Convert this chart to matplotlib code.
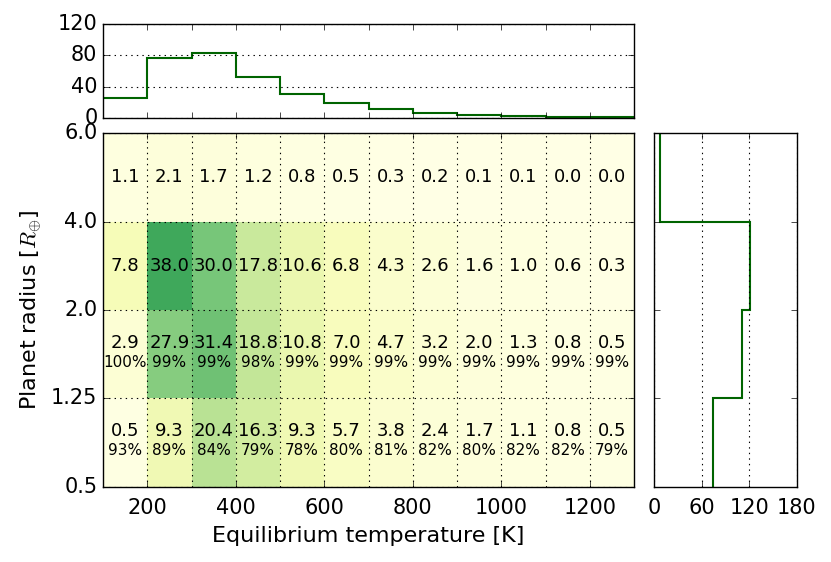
import matplotlib
matplotlib.use('Agg')
import matplotlib.pyplot as plt
import numpy as np

# temperature bins [K] and radius bins [R_earth]
temp_edges = [100, 200, 300, 400, 500, 600, 700, 800, 900, 1000, 1100, 1200, 1300]
radius_labels = ['0.5', '1.25', '2.0', '4.0', '6.0']

# occurrence per cell, rows from small to large radius
occ_r1 = [0.5, 9.3, 20.4, 16.3, 9.3, 5.7, 3.8, 2.4, 1.7, 1.1, 0.8, 0.5]
occ_r2 = [2.9, 27.9, 31.4, 18.8, 10.8, 7.0, 4.7, 3.2, 2.0, 1.3, 0.8, 0.5]
occ_r3 = [7.8, 38.0, 30.0, 17.8, 10.6, 6.8, 4.3, 2.6, 1.6, 1.0, 0.6, 0.3]
occ_r4 = [1.1, 2.1, 1.7, 1.2, 0.8, 0.5, 0.3, 0.2, 0.1, 0.1, 0.0, 0.0]

# percentages shown under the two lower rows
pct_r1 = [93, 89, 84, 79, 78, 80, 81, 82, 80, 82, 82, 79]
pct_r2 = [100, 99, 99, 98, 99, 99, 99, 99, 99, 99, 99, 99]

# marginal histograms
temp_hist = [25.4, 76.3, 83, 53, 30.5, 18.6, 11.4, 6.7, 4.2, 2.0, 1.5, 0.8]
radius_hist = [74.6, 111, 121, 8]


def main():
    plt.style.use('classic')
    plt.rcParams['font.family'] = ['DejaVu Sans']

    fig = plt.figure(figsize=(8.31, 5.62), dpi=100)
    fig.patch.set_facecolor('white')
    ax = fig.add_axes([0.124, 0.134, 0.639, 0.629])
    ax_top = fig.add_axes([0.124, 0.790, 0.639, 0.167])
    ax_right = fig.add_axes([0.787, 0.134, 0.172, 0.629])

    grid = np.array([occ_r1, occ_r2, occ_r3, occ_r4])
    y_edges = np.arange(len(radius_labels))
    ax.pcolormesh(temp_edges, y_edges, grid, cmap='YlGn', vmin=0, vmax=60)

    centers = [(temp_edges[i] + temp_edges[i + 1]) / 2 for i in range(len(temp_edges) - 1)]
    for j, row in enumerate(grid):
        for i, val in enumerate(row):
            if j < 2:
                pct = (pct_r1, pct_r2)[j][i]
                ax.text(centers[i], j + 0.625, '%.1f' % val, ha='center', va='center', fontsize=13)
                ax.text(centers[i], j + 0.41, '%d%%' % pct, ha='center', va='center', fontsize=11)
            else:
                ax.text(centers[i], j + 0.5, '%.1f' % val, ha='center', va='center', fontsize=13)

    ax.set_xlim(100, 1300)
    ax.set_ylim(0, 4)
    ax.set_xticks(range(200, 1300, 200))
    ax.set_xticks(range(300, 1300, 200), minor=True)
    ax.set_yticks(y_edges)
    ax.set_yticklabels(radius_labels)
    ax.tick_params(which='minor', length=0)
    ax.tick_params(labelsize=15)
    ax.tick_params(axis='x', pad=8)
    ax.grid(True, which='both', color='k', linestyle=':', linewidth=0.8)
    ax.set_xlabel('Equilibrium temperature [K]', fontsize=16, labelpad=6)
    ax.set_ylabel(r'Planet radius [$R_{\oplus}$]', fontsize=16)

    # top histogram over temperature
    ax_top.stairs(temp_hist, temp_edges, baseline=None, color='darkgreen', linewidth=1.5)
    ax_top.set_xlim(100, 1300)
    ax_top.set_ylim(0, 120)
    ax_top.set_yticks([0, 40, 80, 120])
    ax_top.set_xticks(range(200, 1300, 100))
    ax_top.set_xticklabels([])
    ax_top.yaxis.grid(True, color='k', linestyle=':', linewidth=0.8)
    ax_top.tick_params(labelsize=15)

    # right histogram over radius
    ax_right.stairs(radius_hist, y_edges, orientation='horizontal', baseline=None,
                    color='darkgreen', linewidth=1.5)
    ax_right.set_ylim(0, 4)
    ax_right.set_xlim(0, 180)
    ax_right.set_xticks([0, 60, 120, 180])
    ax_right.set_yticks([1, 2, 3])
    ax_right.set_yticklabels([])
    ax_right.tick_params(axis='x', pad=8)
    ax_right.xaxis.grid(True, color='k', linestyle=':', linewidth=0.8)
    ax_right.tick_params(labelsize=15)

    fig.savefig('out.png', dpi=100, facecolor='white')


if __name__ == '__main__':
    main()
